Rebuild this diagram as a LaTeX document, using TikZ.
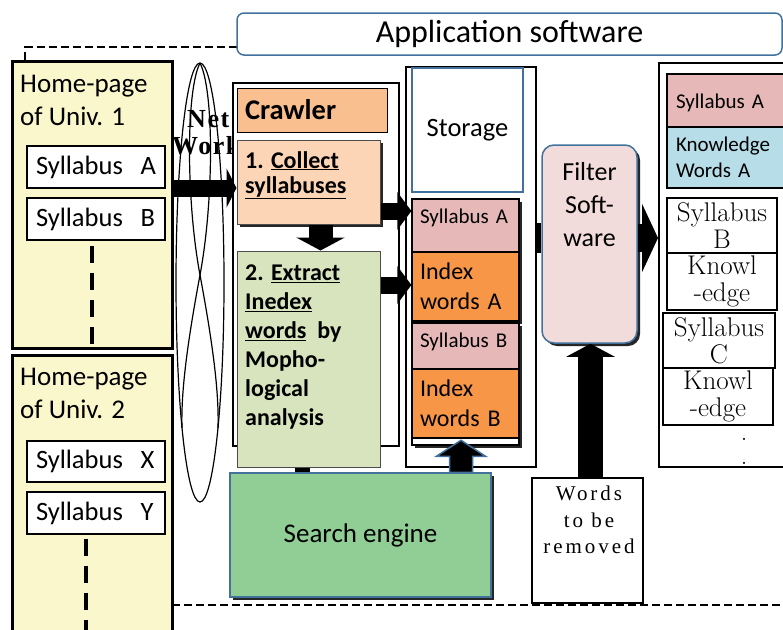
\documentclass[tikz,border=0pt]{standalone}
\usepackage{fontspec}
\setmainfont{Carlito}
\newfontfamily\lmfont{Latin Modern Roman}
\newfontfamily\timesfont[LetterSpace=14]{Liberation Serif}
\newfontfamily\netfont[LetterSpace=6]{Liberation Serif}
\usetikzlibrary{positioning}
\usetikzlibrary{arrows.meta}
\usetikzlibrary{calc}
\usetikzlibrary{shadows}
\definecolor{univfill}{HTML}{FAF7CD}
\definecolor{crawlfill}{HTML}{F9BF8F}
\definecolor{collectfill}{HTML}{FBD5B5}
\definecolor{extractfill}{HTML}{D7E4BD}
\definecolor{searchfill}{HTML}{90CE96}
\definecolor{pinkfill}{HTML}{E6B9B8}
\definecolor{orangefill}{HTML}{F79646}
\definecolor{filterfill}{HTML}{F2DCDB}
\definecolor{bluefill}{HTML}{B7DEE8}
\definecolor{bordblue}{HTML}{41719C}
\tikzset{box/.style={draw, rectangle, inner sep=0pt}}
\tikzset{shad/.style={drop shadow={shadow xshift=3pt, shadow yshift=-3pt, fill=black!85, opacity=1}}}
\tikzset{univbox/.style={box, line width=3pt, fill=univfill, minimum width=160pt}}
\tikzset{hometext/.style={inner sep=0pt, align=left, font=\fontsize{27}{32.5}\selectfont}}
\tikzset{sylbox/.style={box, line width=1.2pt, fill=white, minimum width=138pt, minimum height=42pt, text width=120pt, inner xsep=9pt, align=left, font=\fontsize{26.5}{30}\selectfont}}
\tikzset{vdash/.style={line width=4pt, dash pattern=on 17pt off 10pt}}
\tikzset{outerdash/.style={line width=2.5pt, dash pattern=on 8pt off 4pt}}
\tikzset{netline/.style={line width=1.2pt}}
\tikzset{nettext/.style={inner sep=0pt, align=left, font=\netfont\bfseries\fontsize{26}{27}\selectfont}}
\tikzset{framebox/.style={box, line width=2.5pt}}
\tikzset{stepbox/.style={box, line width=1pt, draw=black!70, minimum width=143pt}}
\tikzset{steptext/.style={inner sep=0pt, align=left, font=\bfseries\fontsize{24}{25}\selectfont}}
\tikzset{stitem/.style={box, line width=1.2pt, minimum width=107pt, text width=91pt, inner xsep=8pt, align=left, shad}}
\tikzset{ritem/.style={box, line width=2pt, minimum width=128pt, text width=110pt, inner xsep=9pt, align=left, font=\fontsize{21}{26}\selectfont}}
\tikzset{lmitem/.style={box, line width=2pt, fill=white, align=center, font=\lmfont\fontsize{27}{27}\selectfont}}
\tikzset{blkar/.style n args={3}{draw=black, line width=#1, -{Triangle[length=#2, width=#3]}}}
\tikzset{arrowfill/.style={fill=black, draw=bordblue, line width=1.5pt, line join=miter}}

\begin{document}
\begin{tikzpicture}[x=1pt,y=-1pt]
\useasboundingbox (0,0) rectangle (783,629);
\clip (0,0) rectangle (783,629);

\coordinate (dtl) at (25,47);
\coordinate (dbl) at (172,605);

\node[univbox, minimum height=287pt] (univ1) at (92,204.5) {};
\node[hometext, anchor=north west] (u1title) at (20,75) {Home-page\\of Univ. 1};
\node[sylbox] (sylA1) at (96,167) {Syllabus~~A};
\node[sylbox] (sylB1) at (96,219) {Syllabus~~B};
\draw[vdash] ([xshift=-4pt, yshift=-5pt]sylB1.south) -- ([xshift=-4pt]sylB1.south |- univ1.south);

\node[univbox, minimum height=290pt] (univ2) at (92,500) {};
\node[hometext, anchor=north west] (u2title) at (20,368) {Home-page\\of Univ. 2};
\node[sylbox, minimum height=41pt] (sylX) at (96,461.5) {Syllabus~~X};
\node[sylbox] (sylY) at (96,513) {Syllabus~~Y};
\draw[vdash] ([xshift=-10pt, yshift=-4pt]sylY.south) -- ([xshift=-10pt]sylY.south |- univ2.south);

\draw[outerdash] (dtl |- univ1.north) -- (dtl) -- (dtl -| 237,0);
\draw[outerdash] (dbl) -- (dbl -| 783,0);

\draw[netline] (200,282.5) ellipse [x radius=24, y radius=219.5];
\draw[netline] (200,63) .. controls (186,90) and (186,200) .. (200,275) .. controls (214,350) and (219,395) .. (218,428);
\draw[netline] (200,63) .. controls (214,90) and (214,200) .. (200,275) .. controls (186,350) and (181,395) .. (182,428);
\node[nettext, anchor=north west] (net) at (172,110) {\hspace{15pt}Net\\Work};

\node[framebox, fill=white, minimum width=166pt, minimum height=363pt] (crawlfr) at (316,264.5) {};
\node[box, line width=1pt, fill=crawlfill, minimum width=150pt, minimum height=44pt, text width=134pt, inner xsep=8pt, align=left, font=\bfseries\fontsize{28.5}{32}\selectfont] (crawltitle) at (312,110) {Crawler};
\node[stepbox, fill=collectfill, minimum height=84pt, shad] (collect) at (308.5,182) {};
\node[steptext, anchor=north west] (collecttxt) at (245,151) {1. \underline{Collect}\\\underline{syllabuses}};
\node[stepbox, fill=extractfill, minimum height=216pt] (extract) at (308.5,359) {};
\node[steptext, anchor=north west, font=\bfseries\fontsize{24}{29}\selectfont] (extracttxt) at (245,264.5) {2. \underline{Extract}\\\underline{Inedex}\\\underline{words}~~by\\Mopho-\\logical\\analysis};

\node[box, draw=bordblue, line width=1.5pt, fill=searchfill, minimum width=261pt, minimum height=124pt, shad, font=\fontsize{27}{30}\selectfont] (search) at (360.5,535) {Search engine};

\node[framebox, line width=2pt, minimum width=130pt, minimum height=400pt] (stfr) at (471,267) {};
\node[box, draw=bordblue, line width=1.5pt, fill=white, minimum width=111pt, minimum height=124pt, font=\fontsize{26.5}{30}\selectfont] (storage) at (467.5,130) {Storage};
\node[stitem, fill=pinkfill, minimum height=53pt, text height=15pt, text depth=20pt, font=\fontsize{21}{26}\selectfont] (stA) at (465.5,225.5) {Syllabus A};
\node[stitem, fill=orangefill, minimum height=69pt, font=\fontsize{24}{30}\selectfont] (idxA) at (465.5,286.5) {Index\\words A};
\node[stitem, fill=pinkfill, minimum height=46pt, text height=15pt, text depth=13pt, font=\fontsize{21}{26}\selectfont] (stB) at (465.5,346) {Syllabus B};
\node[stitem, fill=orangefill, minimum height=69pt, font=\fontsize{24}{30}\selectfont] (idxB) at (465.5,403.5) {Index\\words B};
\node[stitem, fill=white, minimum height=7pt] (strip) at (465.5,441.5) {};

\node[box, draw=bordblue, line width=1.5pt, fill=filterfill, rounded corners=12pt, minimum width=95pt, minimum height=198pt, shad] (filter) at (589.5,244) {};
\node[inner sep=0pt, align=center, font=\fontsize{26}{33}\selectfont] (filtertxt) at (589.5,162) [anchor=north] {Filter\\Soft-\\ware};

\node[box, line width=2pt, fill=white, minimum width=111pt, minimum height=125pt] (words) at (587.5,540.5) {};
\node[inner sep=0pt, align=center, font=\timesfont\fontsize{21}{26.5}\selectfont] (wordstxt) at (589,486) [anchor=north] {Words\\to be\\removed};

\node[framebox, line width=2pt, minimum width=141pt, minimum height=404pt] (rfr) at (729.5,265) {};
\node[ritem, fill=pinkfill, minimum height=53pt, text height=15pt, text depth=0pt] (rA) at (731,100.5) {Syllabus A};
\node[ritem, fill=bluefill, minimum height=61pt] (rK) at (731,157.5) {Knowledge\\Words A};
\node[lmitem, minimum width=110pt, minimum height=55pt] (rB) at (722,225.5) {Syllabus\\B};
\node[lmitem, minimum width=110pt, minimum height=57pt] (rBk) at (722,281.5) {Knowl\\-edge};
\node[lmitem, minimum width=112pt, minimum height=55pt] (rC) at (719,340.5) {Syllabus\\C};
\node[lmitem, minimum width=110pt, minimum height=57pt] (rCk) at (718,396.5) {Knowl\\-edge};
\node[inner sep=0pt, align=center, font=\lmfont\fontsize{26}{24}\selectfont] (rdots) at (744,451) {.\\.};

\node[box, draw=bordblue, line width=1.5pt, rounded corners=7pt, fill=white, minimum width=545pt, minimum height=42pt, font=\fontsize{32}{36}\selectfont] (app) at (509.5,34) {Application software};

\coordinate (netin) at (172,188);
\draw[blkar={17pt}{10pt}{39pt}] (netin) -- (netin -| collect.west);
\draw[blkar={24pt}{13pt}{48pt}] ([xshift=12pt]collect.south) -- ([xshift=12pt]collect.south |- extract.north);
\draw[blkar={17pt}{14pt}{37pt}] ([yshift=-29pt]collect.east) -- ([yshift=-29pt]collect.east -| stA.west);
\draw[blkar={17pt}{14pt}{37pt}] ([yshift=74pt]extract.east) -- ([yshift=74pt]extract.east -| idxA.west);
\draw[line width=15pt] ([xshift=-6pt]extract.south) -- ([xshift=-6pt]extract.south |- search.north);
\coordinate (sb) at ([xshift=-4.5pt]stB.south |- search.north);
\draw[arrowfill] ($(sb)+(-11.5,0)$) -- ($(sb)+(-11.5,-16)$) -- ($(sb)+(-24.5,-16)$) -- ($(sb)+(0,-32)$) -- ($(sb)+(24.5,-16)$) -- ($(sb)+(11.5,-16)$) -- ($(sb)+(11.5,0)$) -- cycle;
\draw[line width=30pt] ([yshift=6pt]filter.west -| stfr.east) -- ([yshift=6pt]filter.west);
\draw[blkar={28pt}{16pt}{68pt}] ([yshift=6pt]filter.east) -- ([yshift=6pt]filter.east -| rfr.west);
\draw[blkar={25pt}{13pt}{48pt}] ([xshift=3pt]words.north) -- ([xshift=3pt]words.north |- filter.south);
\end{tikzpicture}
\end{document}
